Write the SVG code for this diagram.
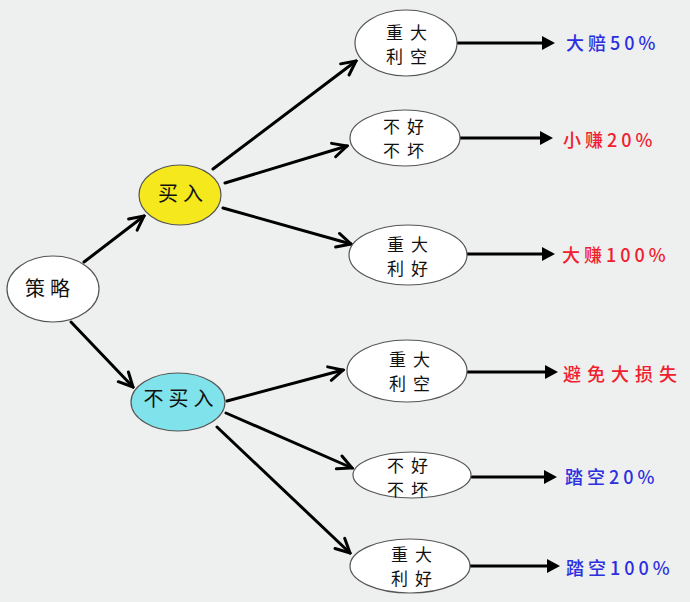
<svg xmlns="http://www.w3.org/2000/svg" width="690" height="602" viewBox="0 0 690 602">
<defs>
<style>
.node ellipse{fill:#ffffff;stroke:#555;stroke-width:1.2}
.t{font-family:"Noto Sans CJK SC","Noto Sans CJK JP",sans-serif;font-size:20px;fill:#111;text-anchor:middle;letter-spacing:5px}
.t2{font-family:"Noto Sans CJK SC","Noto Sans CJK JP",sans-serif;font-size:17px;fill:#111;text-anchor:middle;letter-spacing:7px}
.lbl{font-family:"Noto Sans CJK SC","Noto Sans CJK JP",sans-serif;font-size:18px;font-weight:500;letter-spacing:4px}
.blue{fill:#2b2fe0}
.red{fill:#f0202e}
.conn line{stroke:#000;stroke-width:3;stroke-linecap:round}
</style>
<marker id="v" viewBox="-18 -10 20 20" refX="0" refY="0" markerWidth="20" markerHeight="20" markerUnits="userSpaceOnUse" orient="auto">
<path d="M-14,-7 L0,0 L-14,7" fill="none" stroke="#000" stroke-width="3" stroke-linejoin="miter" stroke-linecap="round"/>
</marker>
<marker id="f" viewBox="-16 -10 18 20" refX="-8" refY="0" markerWidth="18" markerHeight="20" markerUnits="userSpaceOnUse" orient="auto">
<path d="M-13,-7 L0,0 L-13,7 Z" fill="#000"/>
</marker>
</defs>
<rect width="690" height="602" fill="#eeefef"/>

<g class="conn" id="connectors">
<line x1="84" y1="262" x2="144" y2="216" marker-end="url(#v)"/>
<line x1="71" y1="322" x2="133" y2="387" marker-end="url(#v)"/>
<line x1="213" y1="169" x2="356" y2="61" marker-end="url(#v)"/>
<line x1="225" y1="183" x2="347" y2="146" marker-end="url(#v)"/>
<line x1="223" y1="208" x2="351" y2="244" marker-end="url(#v)"/>
<line x1="227" y1="401" x2="343" y2="370" marker-end="url(#v)"/>
<line x1="226" y1="413" x2="352" y2="468" marker-end="url(#v)"/>
<line x1="217" y1="427" x2="350" y2="553" marker-end="url(#v)"/>
<line x1="458" y1="43" x2="547" y2="43" marker-end="url(#f)"/>
<line x1="460" y1="138" x2="545" y2="138" marker-end="url(#f)"/>
<line x1="467" y1="254" x2="547" y2="254" marker-end="url(#f)"/>
<line x1="468" y1="372" x2="550" y2="372" marker-end="url(#f)"/>
<line x1="472" y1="477" x2="549" y2="477" marker-end="url(#f)"/>
<line x1="469" y1="566" x2="552" y2="566" marker-end="url(#f)"/>
</g>

<g class="node" id="n-celue">
<ellipse cx="53" cy="289" rx="46" ry="33"/>
<text class="t" x="50" y="296">策略</text>
</g>
<g class="node" id="n-mairu">
<ellipse cx="180" cy="195" rx="41" ry="30" style="fill:#f5e81c"/>
<text class="t" x="183" y="201">买入</text>
</g>
<g class="node" id="n-bumairu">
<ellipse cx="178" cy="402" rx="47" ry="29" style="fill:#80e2ea"/>
<text class="t" x="181" y="406">不买入</text>
</g>

<g class="node" id="n-a1">
<ellipse cx="406" cy="43" rx="51" ry="33"/>
<text class="t2"><tspan x="410" y="39">重大</tspan><tspan x="410" y="63">利空</tspan></text>
</g>
<g class="node" id="n-a2">
<ellipse cx="405" cy="138" rx="55" ry="28"/>
<text class="t2"><tspan x="407" y="133">不好</tspan><tspan x="407" y="157">不坏</tspan></text>
</g>
<g class="node" id="n-a3">
<ellipse cx="408" cy="255" rx="59" ry="30"/>
<text class="t2"><tspan x="411" y="251">重大</tspan><tspan x="411" y="275">利好</tspan></text>
</g>
<g class="node" id="n-b1">
<ellipse cx="407" cy="371" rx="60" ry="31"/>
<text class="t2"><tspan x="413" y="366">重大</tspan><tspan x="413" y="390">利空</tspan></text>
</g>
<g class="node" id="n-b2">
<ellipse cx="412" cy="475" rx="59" ry="23"/>
<text class="t2"><tspan x="411" y="472">不好</tspan><tspan x="411" y="496">不坏</tspan></text>
</g>
<g class="node" id="n-b3">
<ellipse cx="410" cy="566" rx="60" ry="27"/>
<text class="t2"><tspan x="415" y="561">重大</tspan><tspan x="415" y="585">利好</tspan></text>
</g>

<g id="labels">
<text class="lbl blue" x="566" y="50">大赔50%</text>
<text class="lbl red" x="563" y="147">小赚20%</text>
<text class="lbl red" x="562" y="262">大赚100%</text>
<text class="lbl red" x="563" y="381" style="letter-spacing:6px">避免大损失</text>
<text class="lbl blue" x="565" y="484">踏空20%</text>
<text class="lbl blue" x="566" y="575">踏空100%</text>
</g>
</svg>
